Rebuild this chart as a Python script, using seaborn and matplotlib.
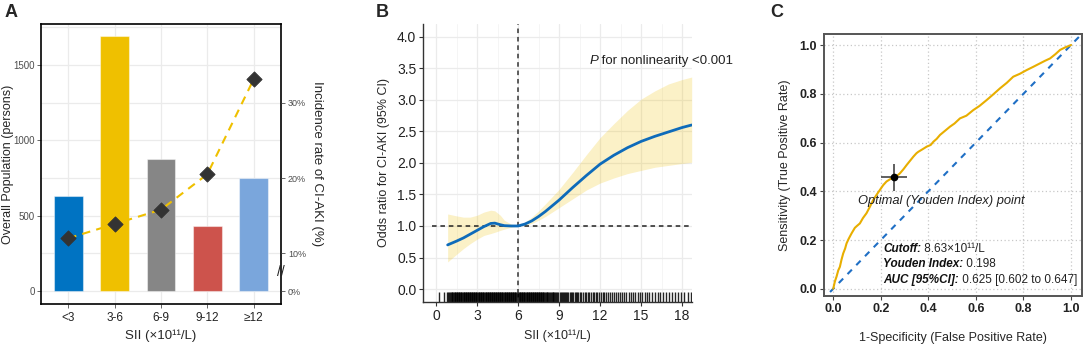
import matplotlib
matplotlib.use("Agg")
import matplotlib.pyplot as plt
import matplotlib.transforms as mtransforms
import seaborn as sns
import pandas as pd

# ---- Panel A: population per SII group + incidence rate
sii_groups = ["<3", "3-6", "6-9", "9-12", "≥12"]
population = [632, 1692, 876, 433, 752]
incidence = [0.120, 0.139, 0.158, 0.205, 0.331]
bar_colors = ["#0073C2", "#EFC000", "#868686", "#CD534C", "#7AA6DC"]

# ---- Panel B: restricted cubic spline (OR and 95% CI)
rcs_x = [0.85, 1.5, 2.0, 2.5, 3.0, 3.5, 4.0, 4.3, 4.7, 5.0, 5.5, 6.0, 6.5, 7.0,
         7.5, 8.0, 9.0, 10.0, 11.0, 12.0, 13.0, 14.0, 15.0, 16.0, 17.0, 18.0, 18.7]
rcs_or = [0.70, 0.76, 0.81, 0.87, 0.93, 0.99, 1.04, 1.045, 1.02, 1.005, 1.0, 1.0, 1.03, 1.08,
          1.15, 1.23, 1.41, 1.61, 1.80, 1.98, 2.12, 2.24, 2.34, 2.42, 2.49, 2.56, 2.60]
rcs_lo = [0.43, 0.55, 0.64, 0.72, 0.79, 0.85, 0.88, 0.90, 0.93, 0.95, 0.98, 1.0, 1.01, 1.04,
          1.09, 1.15, 1.29, 1.43, 1.57, 1.68, 1.76, 1.83, 1.88, 1.93, 1.96, 1.99, 2.01]
rcs_hi = [1.19, 1.16, 1.14, 1.14, 1.17, 1.22, 1.25, 1.24, 1.17, 1.09, 1.03, 1.0, 1.06, 1.14,
          1.24, 1.35, 1.58, 1.85, 2.13, 2.40, 2.62, 2.83, 3.01, 3.14, 3.25, 3.32, 3.36]
rug_sii = [0.25, 0.62, 0.78, 0.88, 0.95, 1.02, 1.08, 1.14, 1.2, 1.25, 1.3, 1.36,
           1.42, 1.47, 1.53, 1.57, 1.62, 1.68, 1.71, 1.77, 1.82, 1.86, 1.93, 1.97, 2.02, 2.06,
           2.12, 2.17, 2.21, 2.27, 2.31, 2.36, 2.42, 2.46, 2.51, 2.57, 2.61, 2.66, 2.72, 2.76,
           2.81, 2.87, 2.91, 2.96, 3.02, 3.06, 3.11, 3.17, 3.21, 3.26, 3.32, 3.36, 3.41, 3.47,
           3.51, 3.56, 3.62, 3.66, 3.71, 3.77, 3.81, 3.86, 3.92, 3.96, 4.01, 4.07, 4.11, 4.16,
           4.22, 4.26, 4.31, 4.37, 4.41, 4.46, 4.52, 4.56, 4.61, 4.67, 4.71, 4.76, 4.82, 4.86,
           4.91, 4.97, 5.01, 5.06, 5.12, 5.16, 5.21, 5.27, 5.31, 5.36, 5.42, 5.46, 5.51, 5.57,
           5.61, 5.66, 5.72, 5.76, 5.81, 5.87, 5.91, 5.96, 6.02, 6.06, 6.11, 6.17, 6.21, 6.26,
           6.32, 6.36, 6.41, 6.47, 6.51, 6.56, 6.62, 6.66, 6.71, 6.77, 6.81, 6.86, 6.92, 6.96,
           7.01, 7.07, 7.11, 7.16, 7.22, 7.26, 7.31, 7.37, 7.41, 7.46, 7.52, 7.56, 7.61, 7.67,
           7.71, 7.76, 7.82, 7.86, 7.91, 7.97, 8.03, 8.09, 8.14, 8.21, 8.27, 8.33, 8.38, 8.45,
           8.52, 8.58, 8.66, 8.72, 8.81, 8.87, 8.95, 9.04, 9.12, 9.18, 9.27, 9.35, 9.41, 9.52,
           9.6, 9.68, 9.77, 9.85, 9.96, 10.04, 10.15, 10.23, 10.34, 10.42, 10.55, 10.63, 10.76,
           10.88, 10.97, 11.1, 11.21, 11.3, 11.45, 11.56, 11.67, 11.8, 11.92, 12.05, 12.2, 12.31,
           12.46, 12.6, 12.72, 12.88, 13.02, 13.15, 13.3, 13.47, 13.6, 13.78, 13.92, 14.1, 14.26,
           14.4, 14.58, 14.75, 14.9, 15.08, 15.27, 15.45, 15.6, 15.82, 16.0, 16.2, 16.38, 16.6,
           16.8, 17.02, 17.25, 17.46, 17.7, 17.92, 18.15, 18.4, 18.62]

# ---- Panel C: ROC curve
fpr = [0, 0.007, 0.014, 0.021, 0.028, 0.035, 0.042, 0.05, 0.056, 0.065, 0.077, 0.091, 0.10,
       0.112, 0.125, 0.14, 0.155, 0.168, 0.182, 0.196, 0.21, 0.224, 0.24, 0.255, 0.27, 0.28,
       0.295, 0.309, 0.323, 0.337, 0.35, 0.358, 0.375, 0.393, 0.41, 0.421, 0.435, 0.449, 0.47,
       0.491, 0.51, 0.533, 0.56, 0.589, 0.615, 0.645, 0.67, 0.701, 0.73, 0.757, 0.785, 0.813,
       0.84, 0.87, 0.89, 0.912, 0.935, 0.954, 0.975, 1.0]
tpr = [0, 0.03, 0.05, 0.075, 0.09, 0.12, 0.145, 0.165, 0.186, 0.205, 0.227, 0.25, 0.258,
       0.268, 0.29, 0.31, 0.338, 0.364, 0.385, 0.405, 0.425, 0.44, 0.45, 0.457, 0.465, 0.473,
       0.49, 0.508, 0.525, 0.542, 0.556, 0.562, 0.572, 0.583, 0.59, 0.603, 0.615, 0.631, 0.648,
       0.665, 0.678, 0.699, 0.71, 0.733, 0.75, 0.774, 0.795, 0.822, 0.845, 0.87, 0.882, 0.897,
       0.91, 0.925, 0.935, 0.945, 0.963, 0.98, 0.99, 1.0]
youden_point = (0.255, 0.457)
youden_err = 0.055
stat_labels = ["Cutoff:", "Youden Index:", "AUC [95%CI]:"]
stat_values = [" 8.63×10¹¹/L", " 0.198", " 0.625 [0.602 to 0.647]"]

sns.set_theme(style="white")
plt.rcParams["font.family"] = ["Liberation Sans", "DejaVu Sans"]

fig = plt.figure(figsize=(10.84, 3.46), dpi=100)
axA = fig.add_axes([0.0378, 0.1214, 0.2214, 0.8092])
axB = fig.add_axes([0.3905, 0.128, 0.2476, 0.8026])
axC = fig.add_axes([0.7601, 0.1436, 0.2378, 0.7573])

# ================= Panel A =================
dfA = pd.DataFrame({"group": sii_groups, "n": population})
sns.barplot(data=dfA, x="group", y="n", hue="group", palette=bar_colors, legend=False,
            saturation=1, width=0.62, edgecolor=(1, 1, 1, 0.45), linewidth=0.8, ax=axA,
            zorder=2)
axA.set_ylim(-86, 1772)
axA.set_xlim(-0.59, 4.59)
axA.set_yticks([0, 500, 1000, 1500])
axA.set_yticks([250, 750, 1250, 1750], minor=True)
axA.grid(True, which="both", color="#EBEBEB", lw=0.9, zorder=0)
axA.set_axisbelow(True)
axA.tick_params(axis="y", which="major", labelsize=7, colors="#4d4d4d", length=3,
                width=0.6, left=True, pad=1.5)
axA.tick_params(axis="y", which="minor", length=0)
axA.tick_params(axis="x", labelsize=8.5, labelcolor="#222222", colors="#4d4d4d",
                length=3, width=0.6, bottom=True, pad=3)
axA.set_ylabel("Overall Population (persons)", fontsize=9)
axA.yaxis.set_label_coords(-0.114, 0.5)
axA.set_xlabel("SII (×10¹¹/L)", fontsize=9.5, labelpad=4)
for s in axA.spines.values():
    s.set_color("black")
    s.set_linewidth(1.2)

# right axis in percent: 0% sits at the bar baseline, above the break 10% steps
axA2 = axA.twinx()
lo, hi = axA.get_ylim()
axA2.set_ylim(lo / 5000 + 0.05, hi / 5000 + 0.05)
dfI = pd.DataFrame({"x": range(len(sii_groups)), "rate": incidence})
sns.lineplot(data=dfI, x="x", y="rate", color="#EFC000", lw=1.5, ax=axA2, zorder=3)
axA2.lines[-1].set_dashes([4, 3])
sns.scatterplot(data=dfI, x="x", y="rate", marker="D", s=60, color="#333333",
                edgecolor="#333333", ax=axA2, zorder=4)
axA2.set_yticks([0.05, 0.10, 0.20, 0.30])
axA2.set_yticklabels(["0%", "10%", "20%", "30%"])
axA2.tick_params(axis="y", labelsize=6.5, colors="#4d4d4d", length=3, width=0.6, right=True,
                 pad=2)
axA2.set_ylabel("Incidence rate of CI-AKI (%)", fontsize=9.5, rotation=270, labelpad=12)
axA2.set_xlabel("")
axA2.grid(False)
for s in axA2.spines.values():
    s.set_visible(False)
axA2.text(1.0, 0.075, "//", transform=mtransforms.blended_transform_factory(
    axA2.transAxes, axA2.transData), fontsize=10, ha="center", va="center", color="#222222",
    clip_on=False)

# ================= Panel B =================
dfB = pd.DataFrame({"x": rcs_x, "or": rcs_or})
axB.fill_between(rcs_x, rcs_lo, rcs_hi, color="#EFC000", alpha=0.22, lw=0, zorder=2)
sns.lineplot(data=dfB, x="x", y="or", color="#0E6BBA", lw=2, ax=axB, zorder=4)
sns.rugplot(x=rug_sii, height=0.035, color="black", alpha=0.85, lw=0.9, ax=axB)
axB.plot([-0.3, 18.7], [1, 1], ls=(0, (3, 2.5)), color="#222222", lw=1.1, zorder=3)
axB.axvline(6, ls=(0, (3, 2.5)), color="#333333", lw=1.1, zorder=3)
axB.set_xlim(-0.93, 18.7)
axB.set_ylim(-0.2, 4.2)
axB.set_xticks(range(0, 19, 3))
axB.set_xticks([1.5, 4.5, 7.5, 10.5, 13.5, 16.5], minor=True)
axB.set_yticks([0, 0.5, 1.0, 1.5, 2.0, 2.5, 3.0, 3.5, 4.0])
axB.set_yticklabels([f"{v:.1f}" for v in axB.get_yticks()])
axB.grid(True, which="major", color="#EBEBEB", lw=0.9, zorder=0)
axB.grid(True, which="minor", axis="x", color="#F4F4F4", lw=0.6, zorder=0)
axB.tick_params(labelsize=10, labelcolor="#222222", colors="#333333", length=3, width=0.8,
                left=True, bottom=True, pad=2)
axB.tick_params(which="minor", length=0)
axB.set_ylabel("Odds ratio for CI-AKI (95% CI)", fontsize=9, labelpad=5)
axB.set_xlabel("SII (×10¹¹/L)", fontsize=9, labelpad=5)
for side in ["top", "right"]:
    axB.spines[side].set_visible(False)
for side in ["left", "bottom"]:
    axB.spines[side].set_color("#333333")
    axB.spines[side].set_linewidth(1.0)
tP = axB.text(11.2, 3.62, "P", style="italic", fontsize=9.5, va="center", color="#222222")
axB.annotate(" for nonlinearity <0.001", xy=(1, 0.5), xycoords=tP, va="center",
             fontsize=9.5, color="#222222")

# ================= Panel C =================
dfC = pd.DataFrame({"fpr": fpr, "tpr": tpr})
axC.plot([-0.05, 1.05], [-0.05, 1.05], ls=(0, (3, 3)), color="#1F6FC5", lw=1.5, zorder=2)
sns.lineplot(data=dfC, x="fpr", y="tpr", color="#E8AE00", lw=1.5, sort=False, ax=axC,
             zorder=3)
axC.errorbar(youden_point[0], youden_point[1], xerr=youden_err, yerr=youden_err, fmt="o",
             color="black", ecolor="#444444", ms=4.5, elinewidth=1.2, capsize=0, zorder=5)
axC.text(0.456, 0.36, "Optimal (Youden Index) point", style="italic", fontsize=9.3,
         ha="center", va="center", color="#222222")
for lab, val, yy in zip(stat_labels, stat_values, [0.165, 0.1, 0.036]):
    t = axC.text(0.21, yy, lab, style="italic", weight="bold", fontsize=8.5, va="center",
                 color="#111111")
    axC.annotate(val, xy=(1, 0.5), xycoords=t, va="center", fontsize=8.5, color="#222222")
axC.set_xlim(-0.039, 1.045)
axC.set_ylim(-0.031, 1.044)
axC.set_xticks([0, 0.2, 0.4, 0.6, 0.8, 1.0])
axC.set_yticks([0, 0.2, 0.4, 0.6, 0.8, 1.0])
axC.set_xticklabels([f"{v:.1f}" for v in axC.get_xticks()])
axC.set_yticklabels([f"{v:.1f}" for v in axC.get_yticks()])
axC.grid(True, color="#C8C8C8", ls=(0, (1, 2)), lw=0.9, zorder=0)
axC.tick_params(labelsize=9, labelcolor="#222222", colors="#444444", length=3, width=0.8,
                left=True, bottom=True, pad=2)
for lab in axC.get_xticklabels() + axC.get_yticklabels():
    lab.set_fontweight("bold")
axC.set_ylabel("Sensitivity (True Positive Rate)", fontsize=9, labelpad=6)
axC.set_xlabel("1-Specificity (False Positive Rate)", fontsize=9, labelpad=12)
for s in axC.spines.values():
    s.set_color("#555555")
    s.set_linewidth(1.4)

for lbl, xx in [("A", 0.004), ("B", 0.347), ("C", 0.711)]:
    fig.text(xx, 0.965, lbl, fontsize=13, weight="bold", va="center")

fig.savefig("out.png", dpi=100)
